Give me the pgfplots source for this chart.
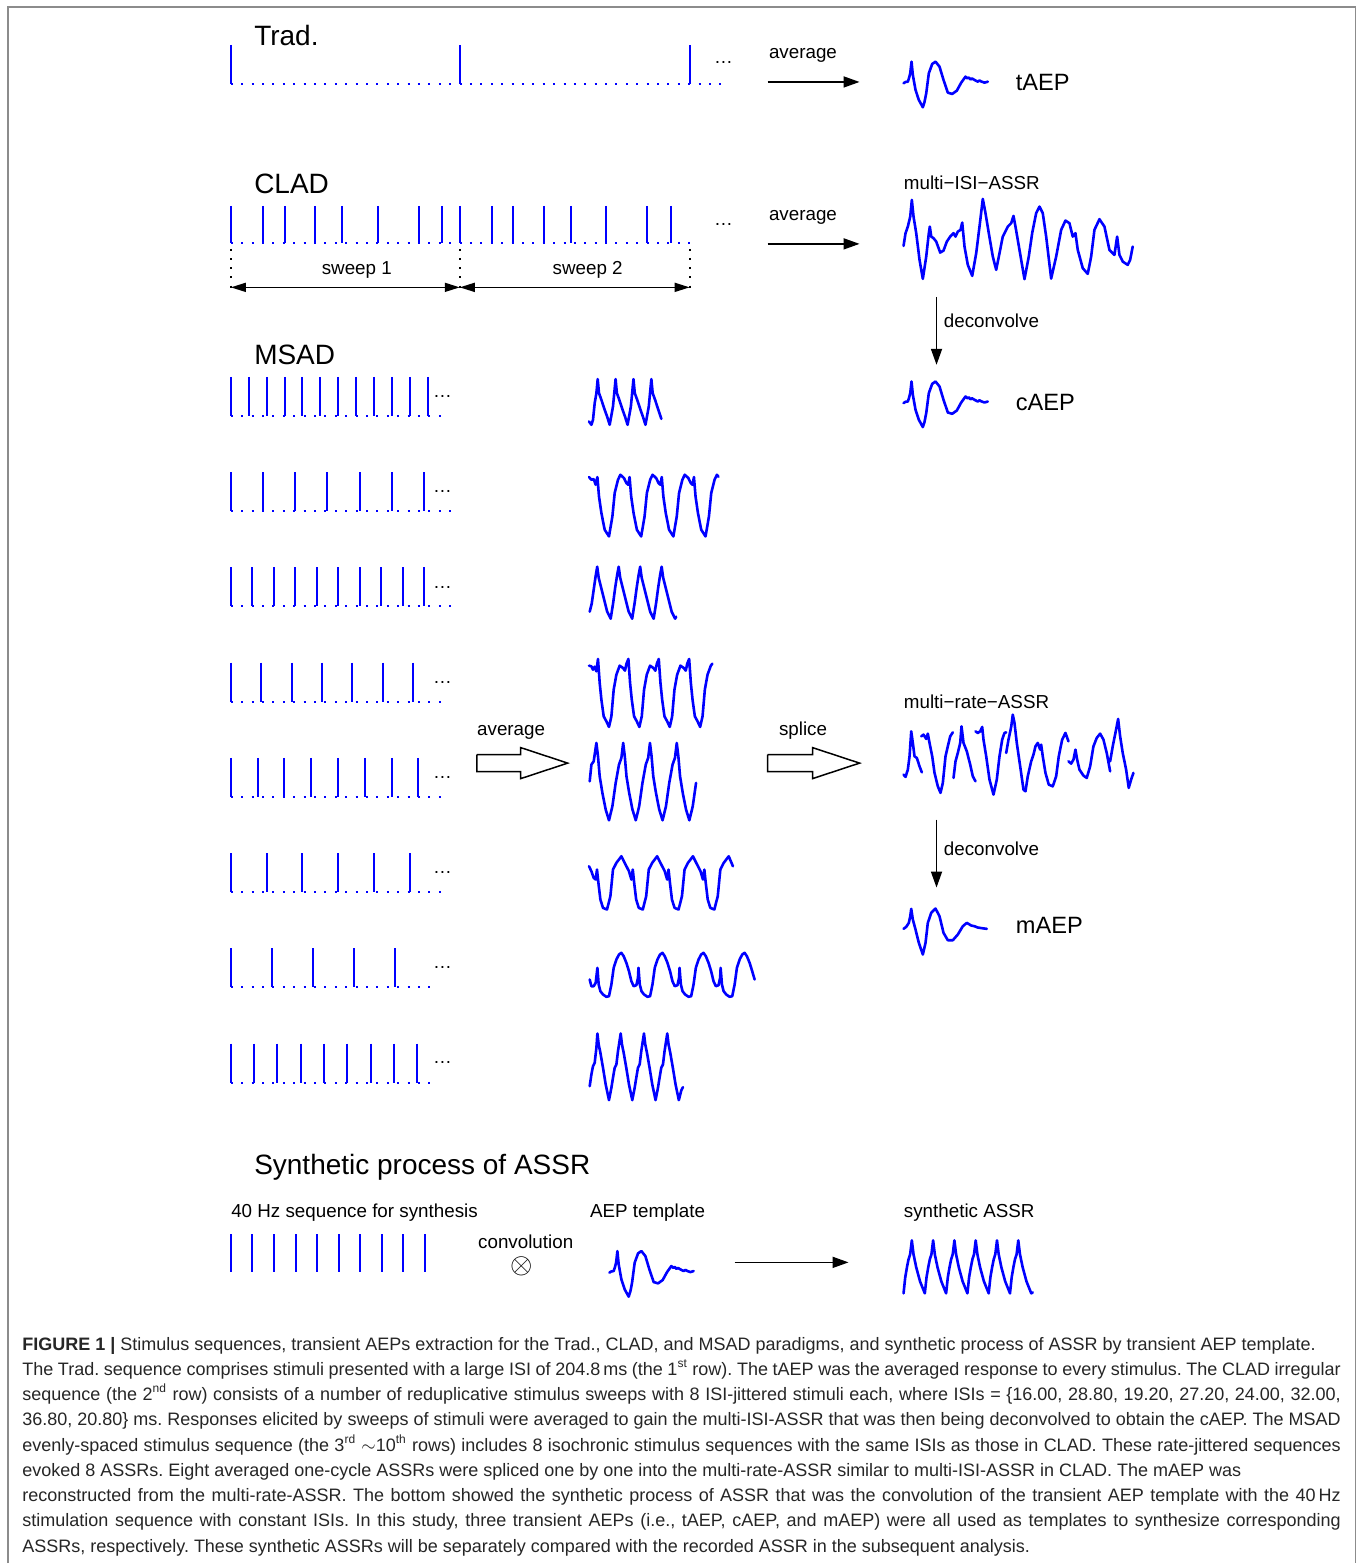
\documentclass[border=0pt]{standalone}
\usepackage{fontspec}
\setmainfont{Liberation Sans}
\usepackage{pgfplots}
\pgfplotsset{compat=1.18}
\usepackage{pgfplotstable}
\usetikzlibrary{arrows.meta}
\definecolor{wblue}{RGB}{0,0,255}
\frenchspacing
\newcommand\sz[1]{\fontsize{#1}{#1}\selectfont}
\newcommand\jl[1]{\makebox[659.5pt][s]{#1}}
\pgfplotsset{
 wave/.style={wblue,line width=1.3pt,line join=round,line cap=round,unbounded coords=jump},
 stim/.style={wblue,line width=1pt,unbounded coords=jump},
 dotbase/.style={wblue,line width=1pt,dash pattern=on 1pt off 4.2pt},
 myarr/.style={black,line width=0.8pt,-{Triangle[length=8pt,width=5.5pt]}},
 hol/.style={black,line width=0.75pt,line join=miter},
}
\tikzset{lab/.style={anchor=base west,inner sep=0pt,font=\sz{9.4}},
 ttl/.style={anchor=base west,inner sep=0pt,font=\sz{14}},
 midl/.style={anchor=base west,inner sep=0pt,font=\sz{11.8}},
 captxt/.style={anchor=base west,inner sep=0pt,font=\sz{9.0},text=black!85}}

\pgfplotstableread{
x y
904 83.3
906 82
908.3 81.7
909.5 78
910.7 73.3
912 61.7
913.3 75
916 90
919.3 100
921.5 104
923.3 107.3
925 102
926.7 93.3
929.3 73.3
932.7 64
936 61.7
940 66.7
944 80
948.3 92.7
952.7 94
957.3 90.7
961.7 82.7
966 76.7
968 78.5
969.3 77.5
971 79.5
972.5 78.5
975 80
978.3 81.7
980 80.5
981.7 81.5
985 82.7
988.3 81.7
}\aep

\begin{document}
\begin{tikzpicture}
\begin{axis}[width=680pt,height=782pt,scale only axis,xmin=0,xmax=1360,ymin=0,ymax=1564,
 y dir=reverse,hide axis,clip=false]
\fill[white] (rel axis cs:0,0) rectangle (rel axis cs:1,1);
% frame
\addplot[black!45,line width=0.8pt] coordinates {(8,1564)(8,7)(1356,7)(1356,1564)};

% ---------- Trad.
\node[ttl] at (axis cs:254,46) {Trad.};
\addplot[stim] coordinates {(231,45)(231,84)(231,nan)(460.5,45)(460.5,84)(460.5,nan)(690,45)(690,84)};
\addplot[dotbase] coordinates {(231,84)(722,84)};
\node[lab] at (axis cs:714,63.5) {…};
\node[lab] at (axis cs:769,59) {average};
\addplot[myarr] coordinates {(768,82)(860,82)};
\addplot[wave] table[x=x,y=y]{\aep};
\node[midl] at (axis cs:1016,91) {tAEP};

% ---------- CLAD
\node[ttl] at (axis cs:254,194) {CLAD};
\addplot[stim] coordinates {(231,206)(231,243)(231,nan)(263.2,206)(263.2,243)(263.2,nan)(284.7,206)(284.7,243)(284.7,nan)
 (315.1,206)(315.1,243)(315.1,nan)(341.9,206)(341.9,243)(341.9,nan)(377.7,206)(377.7,243)(377.7,nan)
 (418.8,206)(418.8,243)(418.8,nan)(442.1,206)(442.1,243)(442.1,nan)(460,206)(460,243)(460,nan)
 (492.2,206)(492.2,243)(492.2,nan)(513.7,206)(513.7,243)(513.7,nan)(544.1,206)(544.1,243)(544.1,nan)
 (570.9,206)(570.9,243)(570.9,nan)(606.7,206)(606.7,243)(606.7,nan)(647.8,206)(647.8,243)(647.8,nan)
 (671.1,206)(671.1,243)};
\addplot[dotbase] coordinates {(231,243)(690,243)};
\node[lab] at (axis cs:714,225.5) {…};
\addplot[black,line width=0.9pt,dash pattern=on 1pt off 3.6pt,unbounded coords=jump] coordinates {(231,249)(231,293)(231,nan)(460,249)(460,293)(460,nan)(690,249)(690,293)};
\addplot[black,line width=0.8pt,{Triangle[length=7.5pt,width=4.5pt]}-{Triangle[length=7.5pt,width=4.5pt]}] coordinates {(231,287.5)(460,287.5)};
\addplot[black,line width=0.8pt,{Triangle[length=7.5pt,width=4.5pt]}-{Triangle[length=7.5pt,width=4.5pt]}] coordinates {(460,287.5)(690,287.5)};
\node[lab,anchor=base] at (axis cs:357,275) {sweep 1};
\node[lab,anchor=base] at (axis cs:588,275) {sweep 2};
\node[lab] at (axis cs:769,221) {average};
\addplot[myarr] coordinates {(768,244)(860,244)};
\node[lab] at (axis cs:904,190) {multi−ISI−ASSR};
\addplot[wave] coordinates {(904,246)(906,233.3)(908.3,226.7)(910.7,216.7)(912.3,200)(914,216.7)(916.7,233.3)(920,260)(923.3,279)
 (926.7,256.7)(929.3,233.3)(930.3,226.7)(931.7,236.7)(934,238.3)(936.7,241.7)(940.7,252.7)(944,250.7)(947.3,241.7)(950.7,236.7)
 (954,233.3)(956,236.7)(958.3,231.7)(961,230)(962.7,222.7)(965,246.7)(968.3,265)(972.7,276)(976.7,253.3)(980,226.7)(983.3,199)
 (986,213.3)(989.3,233.3)(993.3,256.7)(996.7,270)(1000,253.3)(1003.3,236.7)(1008.3,226.7)(1011.7,223.3)(1014,216)(1016,226.7)
 (1020,250)(1025,279.3)(1029.3,256.7)(1032.7,233.3)(1036.7,213.3)(1040,206.7)(1043.3,213.3)(1046.7,236.7)(1051.7,278.7)
 (1056.7,256.7)(1061.7,230)(1066,220.7)(1070,223.3)(1073.3,236.7)(1076,233.3)(1078.3,250)(1083.3,268.3)(1088.3,274)
 (1091.7,256.7)(1095,230)(1100,219.3)(1105,226.7)(1110,250)(1115,255)(1117.7,236.7)(1120,255)(1123.3,261.7)(1128.3,265)
 (1130.7,260)(1133.3,246.7)};
\addplot[myarr] coordinates {(937,297)(937,365)};
\node[lab] at (axis cs:944,328) {deconvolve};
\addplot[wave] table[x=x,y expr=\thisrow{y}+320]{\aep};
\node[midl] at (axis cs:1016,411) {cAEP};

% ---------- MSAD
\node[ttl] at (axis cs:254,365) {MSAD};
% row 1 (16 ms)
\addplot[stim] coordinates {(231,377)(231,416)(231,nan)(248.9,377)(248.9,416)(248.9,nan)(266.8,377)(266.8,416)(266.8,nan)
 (284.7,377)(284.7,416)(284.7,nan)(302.6,377)(302.6,416)(302.6,nan)(320.5,377)(320.5,416)(320.5,nan)(338.4,377)(338.4,416)(338.4,nan)
 (356.3,377)(356.3,416)(356.3,nan)(374.2,377)(374.2,416)(374.2,nan)(392.1,377)(392.1,416)(392.1,nan)(410,377)(410,416)(410,nan)
 (427.9,377)(427.9,416)};
\addplot[dotbase] coordinates {(231,416)(447,416)};
\node[lab] at (axis cs:433,398) {…};
% row 2 (28.8 ms)
\addplot[stim] coordinates {(231,472.3)(231,511.3)(231,nan)(263.2,472.3)(263.2,511.3)(263.2,nan)(295.4,472.3)(295.4,511.3)(295.4,nan)
 (327.6,472.3)(327.6,511.3)(327.6,nan)(359.8,472.3)(359.8,511.3)(359.8,nan)(392,472.3)(392,511.3)(392,nan)(424.2,472.3)(424.2,511.3)};
\addplot[dotbase] coordinates {(231,511.3)(457,511.3)};
\node[lab] at (axis cs:433,493) {…};
% row 3 (19.2 ms)
\addplot[stim] coordinates {(231,567.6)(231,606.6)(231,nan)(252.5,567.6)(252.5,606.6)(252.5,nan)(274,567.6)(274,606.6)(274,nan)
 (295.5,567.6)(295.5,606.6)(295.5,nan)(317,567.6)(317,606.6)(317,nan)(338.5,567.6)(338.5,606.6)(338.5,nan)(360,567.6)(360,606.6)(360,nan)
 (381.5,567.6)(381.5,606.6)(381.5,nan)(403,567.6)(403,606.6)(403,nan)(424.5,567.6)(424.5,606.6)};
\addplot[dotbase] coordinates {(231,606.6)(452,606.6)};
\node[lab] at (axis cs:433,588.5) {…};
% row 4 (27.2 ms)
\addplot[stim] coordinates {(231,662.9)(231,701.9)(231,nan)(261.4,662.9)(261.4,701.9)(261.4,nan)(291.8,662.9)(291.8,701.9)(291.8,nan)
 (322.2,662.9)(322.2,701.9)(322.2,nan)(352.6,662.9)(352.6,701.9)(352.6,nan)(383,662.9)(383,701.9)(383,nan)(413.4,662.9)(413.4,701.9)};
\addplot[dotbase] coordinates {(231,701.9)(444,701.9)};
\node[lab] at (axis cs:433,683.5) {…};
% row 5 (24 ms)
\addplot[stim] coordinates {(231,758.2)(231,797.2)(231,nan)(257.8,758.2)(257.8,797.2)(257.8,nan)(284.6,758.2)(284.6,797.2)(284.6,nan)
 (311.4,758.2)(311.4,797.2)(311.4,nan)(338.2,758.2)(338.2,797.2)(338.2,nan)(365,758.2)(365,797.2)(365,nan)(391.8,758.2)(391.8,797.2)(391.8,nan)
 (418.6,758.2)(418.6,797.2)};
\addplot[dotbase] coordinates {(231,797.2)(447,797.2)};
\node[lab] at (axis cs:433,778.5) {…};
% row 6 (32 ms)
\addplot[stim] coordinates {(231,853.5)(231,892.5)(231,nan)(266.8,853.5)(266.8,892.5)(266.8,nan)(302.6,853.5)(302.6,892.5)(302.6,nan)
 (338.4,853.5)(338.4,892.5)(338.4,nan)(374.2,853.5)(374.2,892.5)(374.2,nan)(410,853.5)(410,892.5)};
\addplot[dotbase] coordinates {(231,892.5)(445,892.5)};
\node[lab] at (axis cs:433,873.5) {…};
% row 7 (36.8 ms)
\addplot[stim] coordinates {(231,948.8)(231,987.8)(231,nan)(272.1,948.8)(272.1,987.8)(272.1,nan)(313.2,948.8)(313.2,987.8)(313.2,nan)
 (354.3,948.8)(354.3,987.8)(354.3,nan)(395.4,948.8)(395.4,987.8)};
\addplot[dotbase] coordinates {(231,987.8)(435,987.8)};
\node[lab] at (axis cs:433,968.5) {…};
% row 8 (20.8 ms)
\addplot[stim] coordinates {(231,1044.1)(231,1083.1)(231,nan)(254.3,1044.1)(254.3,1083.1)(254.3,nan)(277.6,1044.1)(277.6,1083.1)(277.6,nan)
 (300.9,1044.1)(300.9,1083.1)(300.9,nan)(324.2,1044.1)(324.2,1083.1)(324.2,nan)(347.5,1044.1)(347.5,1083.1)(347.5,nan)
 (370.8,1044.1)(370.8,1083.1)(370.8,nan)(394.1,1044.1)(394.1,1083.1)(394.1,nan)(417.4,1044.1)(417.4,1083.1)};
\addplot[dotbase] coordinates {(231,1083.1)(435,1083.1)};
\node[lab] at (axis cs:433,1064) {…};

% MSAD responses
\addplot[wave] coordinates {(589.3,421.7)(591.7,425)(593.3,420)(595,403.3)(596.7,393.3)
 (598,379.3)(599.3,393.3)(601.7,400)(605,410)(607.5,417)(610,425)(613.3,406.7)
 (615.9,379.3)(617.2,393.3)(619.6,400)(622.9,410)(625.4,417)(627.9,425)(631.2,406.7)
 (633.8,379.3)(635.1,393.3)(637.5,400)(640.8,410)(643.3,417)(645.8,425)(649.1,406.7)
 (651.7,379.3)(653,393.3)(655.4,400)(658.7,410)(661.7,419)};
\addplot[wave] coordinates {(589.3,477.3)(591.7,480)(594,479.3)(596,485)
 (597.7,477.3)(599.3,496.7)(601.7,513.3)(605,530)(609.3,536.7)(612.7,516.7)(615,493.3)(618.3,480)(620.7,475)(624.3,478.3)(626.7,483.3)(628.5,485)
 (629.9,477.3)(631.5,496.7)(633.9,513.3)(637.2,530)(641.5,536.7)(644.9,516.7)(647.2,493.3)(650.5,480)(652.9,475)(656.5,478.3)(658.9,483.3)(660.7,485)
 (662.1,477.3)(663.7,496.7)(666.1,513.3)(669.4,530)(673.7,536.7)(677.1,516.7)(679.4,493.3)(682.7,480)(685.1,475)(688.7,478.3)(691.1,483.3)(692.9,485)
 (694.3,477.3)(695.9,496.7)(698.3,513.3)(701.6,530)(705.9,536.7)(709.3,516.7)(711.6,493.3)(714.9,480)(717.3,475)(718.8,477)};
\addplot[wave] coordinates {(590,612)(592,604)(594,590)(596,576)
 (597.5,567)(599,578)(601.5,588)(604.5,600)(607.5,612)(611,619)(613.5,603)(615.5,588)(617.5,575)
 (619,567)(620.5,578)(623,588)(626,600)(629,612)(632.5,619)(635,603)(637,588)(639,575)
 (640.5,567)(642,578)(644.5,588)(647.5,600)(650.5,612)(654,619)(656.5,603)(658.5,588)(660.5,575)
 (662,567)(663.5,578)(666,588)(669,600)(672,612)(675.5,619)(676.5,617)};
\addplot[wave] coordinates {(589.3,666)(591.7,666.7)(593.3,670)(595,667)(596.7,671.7)
 (598.3,659.3)(600,683.3)(601.7,700)(604,716.7)(606.7,721.7)(609.3,727.3)(611.7,716.7)(614,690)(616.7,675)(620,666)(623.3,668.3)(625.3,671)(626.8,664)
 (628.7,659.3)(630.4,683.3)(632.1,700)(634.4,716.7)(637.1,721.7)(639.7,727.3)(642.1,716.7)(644.4,690)(647.1,675)(650.4,666)(653.7,668.3)(655.7,671)(657.2,664)
 (659.1,659.3)(660.8,683.3)(662.5,700)(664.8,716.7)(667.5,721.7)(670.1,727.3)(672.5,716.7)(674.8,690)(677.5,675)(680.8,666)(684.1,668.3)(686.1,671)(687.6,664)
 (689.5,659.3)(691.2,683.3)(692.9,700)(695.2,716.7)(697.9,721.7)(700.5,727.3)(702.9,716.7)(705.2,690)(707.9,675)(711.2,666)(712.7,664)};
\addplot[wave] coordinates {(590,781.7)(591.7,765)(594,761.7)
 (596.7,743.3)(598.3,756.7)(600,776.7)(602.7,793.3)(606,810)(609.3,820.7)(612.7,806.7)(616,783.3)(619.3,765)(621.7,758.3)
 (623.5,743.3)(625.1,756.7)(626.8,776.7)(629.5,793.3)(632.8,810)(636.1,820.7)(639.5,806.7)(642.8,783.3)(646.1,765)(648.5,758.3)
 (650.3,743.3)(651.9,756.7)(653.6,776.7)(656.3,793.3)(659.6,810)(662.9,820.7)(666.3,806.7)(669.6,783.3)(672.9,765)(675.3,758.3)
 (677.1,743.3)(678.7,756.7)(680.4,776.7)(683.1,793.3)(686.4,810)(689.7,820.7)(693.1,806.7)(696.4,783.3)};
\addplot[wave] coordinates {(589.3,866.7)(591.7,871.7)(594,878.3)(596,880)
 (597.3,870)(598.7,883.3)(600.7,900)(603.3,908.3)(607.3,910)(610.7,896.7)(613.3,870)(616.7,863.3)(621.7,856.7)(625,863.3)(629.3,871.7)(631.7,880)
 (633.1,870)(634.5,883.3)(636.5,900)(639.1,908.3)(643.1,910)(646.5,896.7)(649.1,870)(652.5,863.3)(657.5,856.7)(660.8,863.3)(665.1,871.7)(667.5,880)
 (668.9,870)(670.3,883.3)(672.3,900)(674.9,908.3)(678.9,910)(682.3,896.7)(684.9,870)(688.3,863.3)(693.3,856.7)(696.6,863.3)(700.9,871.7)(703.3,880)
 (704.7,870)(706.1,883.3)(708.1,900)(710.7,908.3)(714.7,910)(718.1,896.7)(720.7,870)(724.1,863.3)(729.1,856.7)(733.3,866.7)};
\addplot[wave] coordinates {(590,980)(591.7,986.7)(594,986.7)(596,983.3)
 (597.7,968.3)(599,985)(600.7,991.7)(603.3,995)(606.7,997.3)(609.3,996.7)(611.7,985)(614,968.3)(616.7,960)(619.3,955)(621.7,953.3)(624,956.7)(626.7,963.3)(629.3,971.7)(631.7,981.7)(634,986.7)(636.7,985.7)(638.3,978.3)
 (638.8,968.3)(640.1,985)(641.8,991.7)(644.4,995)(647.8,997.3)(650.4,996.7)(652.8,985)(655.1,968.3)(657.8,960)(660.4,955)(662.8,953.3)(665.1,956.7)(667.8,963.3)(670.4,971.7)(672.8,981.7)(675.1,986.7)(677.8,985.7)(679.4,978.3)
 (679.9,968.3)(681.2,985)(682.9,991.7)(685.5,995)(688.9,997.3)(691.5,996.7)(693.9,985)(696.2,968.3)(698.9,960)(701.5,955)(703.9,953.3)(706.2,956.7)(708.9,963.3)(711.5,971.7)(713.9,981.7)(716.2,986.7)(718.9,985.7)(720.5,978.3)
 (721,968.3)(722.3,985)(724,991.7)(726.6,995)(730,997.3)(732.6,996.7)(735,985)(737.3,968.3)(740,960)(742.6,955)(745,953.3)(747.3,956.7)(750,963.3)(752.6,971.7)(755,980)};
\addplot[wave] coordinates {(590,1086.7)(591.7,1075)(593.3,1066.7)(595,1063.3)(596.7,1048.3)
 (597.7,1034)(599,1045)(600.7,1053.3)(603.3,1068.3)(606,1085)(609.3,1100.7)(611.7,1088.3)(613.3,1078.3)(615,1068.3)(616.7,1065)(618.3,1051.7)
 (621,1034)(622.3,1045)(624,1053.3)(626.6,1068.3)(629.3,1085)(632.6,1100.7)(635,1088.3)(636.6,1078.3)(638.3,1068.3)(640,1065)(641.6,1051.7)
 (644.3,1034)(645.6,1045)(647.3,1053.3)(649.9,1068.3)(652.6,1085)(655.9,1100.7)(658.3,1088.3)(659.9,1078.3)(661.6,1068.3)(663.3,1065)(664.9,1051.7)
 (667.6,1034)(668.9,1045)(670.6,1053.3)(673.2,1068.3)(675.9,1085)(679.2,1100.7)(681.6,1091)(683.3,1087.7)};

% hollow arrows
\node[lab] at (axis cs:477,736) {average};
\addplot[hol] coordinates {(477,755)(521,755)(521,748)(568,763.5)(521,779)(521,772)(477,772)(477,755)};
\node[lab] at (axis cs:779,736) {splice};
\addplot[hol] coordinates {(768,755)(813,755)(813,748)(860,763.5)(813,779)(813,772)(768,772)(768,755)};

% multi-rate-ASSR
\node[lab] at (axis cs:904,709) {multi−rate−ASSR};
\addplot[wave] coordinates {(904,775)(906,777.3)(908.3,770)(910,756.7)(911.7,731.7)(913.3,743.3)(915,756.7)(917.3,758.3)(920,766.7)(922.3,772.7)
 (922.3,nan)
 (921.7,736.7)(924,735)(926.7,739.3)(928.3,734)(930,743.3)(932.7,756.7)(935,773.3)(938.3,786.7)(941,793.3)(943.3,783.3)(946,756.7)(948.3,746.7)(950.7,736.7)(953.3,732.7)
 (953.3,nan)
 (954,778.3)(956,761.7)(958.3,753.3)(960.7,743.3)(962,726.7)(964,743.3)(967.3,751.7)(970.7,765)(973.3,776.7)(976,781.7)
 (976,nan)
 (976,731.7)(978.3,733.3)(980.7,731.7)(982.7,727.3)(984,740)(986.7,756.7)(990,780)(994,795)(997.3,780)(1000,756.7)(1002.7,740)(1005,733.3)(1006.7,732.7)
 (1006.7,nan)
 (1006.7,753.3)(1009,740)(1011.7,727.3)(1013.3,715)(1015,723.3)(1017.3,743.3)(1020.7,766.7)(1024,790)(1026,791.7)(1028.3,776.7)(1031.7,761.7)(1034,755)
 (1036,746.7)(1038.3,743.3)(1040.7,750)(1041.7,745)(1043.3,756.7)(1046,773.3)(1049.3,785)(1053.3,786.7)(1056.7,776.7)(1059.3,756.7)(1062.7,740)(1066,733.3)(1069,741.7)
 (1069,nan)
 (1069,761.7)(1071.7,764)(1074,760)(1076,750)(1077.7,760)(1080,770)(1084,776)(1087.3,778.3)(1090.7,766.7)(1094,746.7)(1097.3,738.3)(1100.7,734)(1104,740)(1107.3,753.3)(1110.7,771.7)
 (1110.7,nan)
 (1110.7,761.7)(1113.3,746.7)(1116,733.3)(1118.7,719.3)(1120.7,736.7)(1123.3,753.3)(1126.7,770)(1129.3,788.3)(1131.7,780)(1134,773.3)};
\addplot[myarr] coordinates {(937,820)(937,888)};
\node[lab] at (axis cs:944,856) {deconvolve};
\addplot[wave] coordinates {(904,929.3)(906.7,927.3)(909.3,923.3)(910.7,916.7)(911.7,909.3)(913.3,920)(916,930)(919.3,943.3)(923.3,955)
 (926,943.3)(928.3,923.3)(931.7,913.3)(936,909)(940,916.7)(944,933.3)(948.3,940.7)(953.3,940.7)(958.3,935)(963.3,926.7)(967.3,923.3)
 (971.7,926)(975,926.7)(978.3,928)(982.7,928.7)(987.3,929.3)};
\node[midl] at (axis cs:1016,934) {mAEP};

% ---------- Synthetic process
\node[ttl] at (axis cs:254,1175) {Synthetic process of ASSR};
\node[lab] at (axis cs:231,1218) {40 Hz sequence for synthesis};
\node[lab] at (axis cs:590,1218) {AEP template};
\node[lab] at (axis cs:904,1218) {synthetic ASSR};
\addplot[stim] coordinates {(231,1235)(231,1273)(231,nan)(252.6,1235)(252.6,1273)(252.6,nan)(274.1,1235)(274.1,1273)(274.1,nan)
 (295.7,1235)(295.7,1273)(295.7,nan)(317.2,1235)(317.2,1273)(317.2,nan)(338.8,1235)(338.8,1273)(338.8,nan)
 (360.3,1235)(360.3,1273)(360.3,nan)(381.9,1235)(381.9,1273)(381.9,nan)(403.4,1235)(403.4,1273)(403.4,nan)(425,1235)(425,1273)};
\node[lab] at (axis cs:478,1249) {convolution};
\node[inner sep=0pt,font=\sz{15}] at (axis cs:522,1267) {$\otimes$};
\addplot[wave] table[x expr=\thisrow{x}-294.3,y expr=\thisrow{y}+1190]{\aep};
\addplot[myarr] coordinates {(735,1263)(849,1263)};
\addplot[wave] coordinates {(904,1294)(905.7,1278)(907.4,1268)(909,1260)(910.6,1255)(912.3,1241)(914,1255)(916.7,1268)(920.5,1282)
 (925.3,1294)(927,1278)(928.7,1268)(930.3,1260)(931.9,1255)(933.6,1241)(935.3,1255)(938,1268)(941.8,1282)
 (946.6,1294)(948.3,1278)(950,1268)(951.6,1260)(953.2,1255)(954.9,1241)(956.6,1255)(959.3,1268)(963.1,1282)
 (967.9,1294)(969.6,1278)(971.3,1268)(972.9,1260)(974.5,1255)(976.2,1241)(977.9,1255)(980.6,1268)(984.4,1282)
 (989.2,1294)(990.9,1278)(992.6,1268)(994.2,1260)(995.8,1255)(997.5,1241)(999.2,1255)(1001.9,1268)(1005.7,1282)
 (1010.5,1294)(1012.2,1278)(1013.9,1268)(1015.5,1260)(1017.1,1255)(1018.8,1241)(1020.5,1255)(1023.2,1268)(1027,1282)
 (1031.8,1294)(1033.3,1293)};

% ---------- caption
\node[captxt] at (axis cs:22,1351) {\textbf{FIGURE 1 |} Stimulus sequences, transient AEPs extraction for the Trad., CLAD, and MSAD paradigms, and synthetic process of ASSR by transient AEP template.};
\node[captxt] at (axis cs:22,1376) {\jl{The Trad. sequence comprises stimuli presented with a large ISI of 204.8\,ms (the 1\textsuperscript{st} row). The tAEP was the averaged response to every stimulus. The CLAD irregular}};
\node[captxt] at (axis cs:22,1401) {\jl{sequence (the 2\textsuperscript{nd} row) consists of a number of reduplicative stimulus sweeps with 8 ISI-jittered stimuli each, where ISIs = \{16.00, 28.80, 19.20, 27.20, 24.00, 32.00,}};
\node[captxt] at (axis cs:22,1426) {\jl{36.80, 20.80\} ms. Responses elicited by sweeps of stimuli were averaged to gain the multi-ISI-ASSR that was then being deconvolved to obtain the cAEP. The MSAD}};
\node[captxt] at (axis cs:22,1452) {\jl{evenly-spaced stimulus sequence (the 3\textsuperscript{rd} $\sim$10\textsuperscript{th} rows) includes 8 isochronic stimulus sequences with the same ISIs as those in CLAD. These rate-jittered sequences}};
\node[captxt] at (axis cs:22,1477) {evoked 8 ASSRs. Eight averaged one-cycle ASSRs were spliced one by one into the multi-rate-ASSR similar to multi-ISI-ASSR in CLAD. The mAEP was};
\node[captxt] at (axis cs:22,1502) {\jl{reconstructed from the multi-rate-ASSR. The bottom showed the synthetic process of ASSR that was the convolution of the transient AEP template with the 40\,Hz}};
\node[captxt] at (axis cs:22,1527) {\jl{stimulation sequence with constant ISIs. In this study, three transient AEPs (i.e., tAEP, cAEP, and mAEP) were all used as templates to synthesize corresponding}};
\node[captxt] at (axis cs:22,1553) {ASSRs, respectively. These synthetic ASSRs will be separately compared with the recorded ASSR in the subsequent analysis.};
\end{axis}
\end{tikzpicture}
\end{document}
